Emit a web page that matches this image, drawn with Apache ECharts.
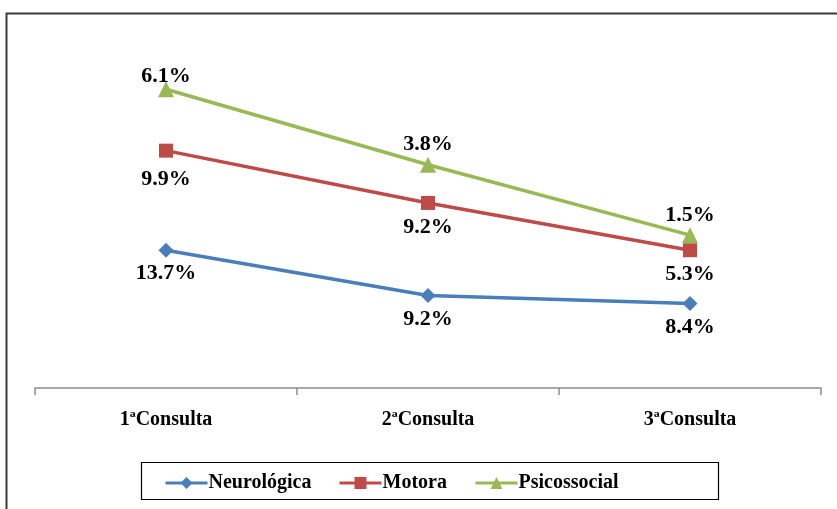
<!DOCTYPE html>
<html><head><meta charset="utf-8">
<script src="https://cdn.jsdelivr.net/npm/echarts@6/dist/echarts.min.js"></script>
<style>html,body{margin:0;padding:0;background:#fff}#c{width:837px;height:509px}</style>
</head><body><div id="c"></div>
<script>
var categories = ['1ªConsulta', '2ªConsulta', '3ªConsulta'];
var neurologica = [13.7, 9.2, 8.4];
var motora = [9.9, 9.2, 5.3];
var psicossocial = [6.1, 3.8, 1.5];
var seriesNames = ['Neurológica', 'Motora', 'Psicossocial'];

var font = '"Liberation Serif", "Times New Roman", serif';
var chart = echarts.init(document.getElementById('c'), null, {renderer: 'canvas'});
function lbl(pos, dist) {
  return {show: true, position: pos, distance: dist, fontFamily: font, fontWeight: 'bold', fontSize: 22, color: '#000',
    formatter: function (p) { return p.value.toFixed(1) + '%'; }};
}
var legendLefts = [164, 338, 474];
var legends = seriesNames.map(function (n, i) {
  return {left: legendLefts[i], top: 473, itemWidth: 42, itemHeight: 15, padding: 0,
    lineStyle: {width: 3},
    textStyle: {fontFamily: font, fontWeight: 'bold', fontSize: 20, color: '#000', padding: [0, 0, 0, -4]},
    data: [n]};
});
function withFirstDist(arr, d) {
  return arr.map(function (v, i) { return i === 0 ? {value: v, label: {distance: d}} : v; });
}
chart.setOption({
  animation: false,
  backgroundColor: '#fff',
  graphic: [
    {type: 'rect', shape: {x: 6.5, y: 13.5, width: 900, height: 600},
      style: {fill: 'none', stroke: '#3a3a3a', lineWidth: 2}, z: 100},
    {type: 'rect', shape: {x: 141.5, y: 462.5, width: 577, height: 37},
      style: {fill: 'none', stroke: '#000', lineWidth: 1.2}, z: 100}
  ],
  grid: {left: 35, right: 16, top: 36, bottom: 121},
  xAxis: {type: 'category', data: categories, boundaryGap: true,
    axisLine: {lineStyle: {color: '#8c8c8c', width: 1.5}},
    axisTick: {show: true, length: 7, lineStyle: {color: '#8c8c8c', width: 1.5}},
    axisLabel: {margin: 22, fontFamily: font, fontWeight: 'bold', fontSize: 20, color: '#000'}},
  yAxis: {type: 'value', min: 0, max: 35, show: false, splitLine: {show: false}},
  legend: legends,
  series: [
    {name: seriesNames[0], type: 'line', stack: 'total', data: neurologica, symbol: 'diamond', symbolSize: 15,
      itemStyle: {color: '#4A7EBB'}, lineStyle: {width: 3.5, color: '#4A7EBB'}, label: lbl('bottom', 5)},
    {name: seriesNames[1], type: 'line', stack: 'total', data: withFirstDist(motora, 11), symbol: 'rect', symbolSize: 14,
      itemStyle: {color: '#BE4B48'}, lineStyle: {width: 3.5, color: '#BE4B48'}, label: lbl('bottom', 6)},
    {name: seriesNames[2], type: 'line', stack: 'total', data: withFirstDist(psicossocial, -6), symbol: 'triangle', symbolSize: 16,
      itemStyle: {color: '#98B954'}, lineStyle: {width: 3.5, color: '#98B954'}, label: lbl('top', 1)}
  ]
});
</script></body></html>
